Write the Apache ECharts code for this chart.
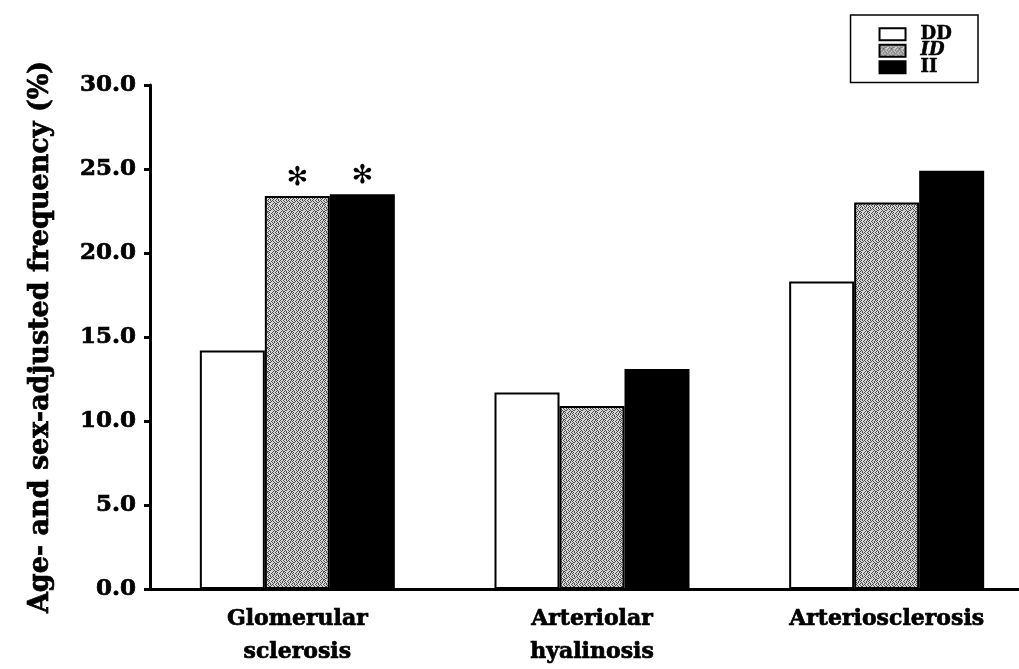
<!DOCTYPE html>
<html>
<head>
<meta charset="utf-8">
<script src="https://cdn.jsdelivr.net/npm/echarts@6/dist/echarts.min.js"></script>
<style>html,body{margin:0;padding:0;background:#fff;overflow:hidden}#c{width:1040px;height:669px}</style>
</head>
<body>
<div id="c"></div>
<script>
const categories = ['Glomerular\nsclerosis', 'Arteriolar\nhyalinosis', 'Arteriosclerosis'];
const seriesNames = ['DD', 'ID', 'II'];
const ddValues = [14.2, 11.7, 18.3];
const idValues = [23.4, 10.9, 23.0];
const iiValues = [23.5, 13.1, 24.9];
const idMarks = ['✻', '', ''];
const iiMarks = ['✻', '', ''];
const yTicks = [0, 5, 10, 15, 20, 25, 30];

// deterministic stipple texture for the ID bars
const tex = document.createElement('canvas');
tex.width = 8; tex.height = 8;
const tctx = tex.getContext('2d');
const pat = [
  '10010010','01001001','00100110','01011000',
  '10010100','00101001','10100100','01001010'
];
for (let y = 0; y < 8; y++) for (let x = 0; x < 8; x++) {
  tctx.fillStyle = pat[y][x] === '1' ? '#505050' : '#d4d4d4';
  tctx.fillRect(x, y, 1, 1);
}
const texture = {image: tex, repeat: 'repeat'};

const font = 'DejaVu Serif';
const heavy = {textBorderColor: '#000', textBorderWidth: 0.7};
function withMarks(values, marks) {
  return values.map((v, i) => marks[i] ? {
    value: v,
    label: {show: true, position: 'top', formatter: marks[i], distance: 5,
      fontSize: 26, color: '#000', fontFamily: 'DejaVu Sans', fontWeight: 'bold'}
  } : v);
}

const chart = echarts.init(document.getElementById('c'), null, {renderer: 'canvas'});
chart.setOption({
  animation: false,
  backgroundColor: '#fff',
  grid: {left: 150, top: 85, bottom: 77, width: 884},
  legend: {
    right: 62, top: 15,
    orient: 'vertical',
    icon: 'rect',
    itemWidth: 26, itemHeight: 12, itemGap: -2,
    padding: [10, 26, 6, 28],
    borderColor: '#000', borderWidth: 1.5,
    selectedMode: false,
    textStyle: Object.assign({fontFamily: font, fontWeight: 'bold', fontSize: 18, lineHeight: 14, color: '#000', padding: [0, 0, 0, 10]}, {textBorderColor: '#000', textBorderWidth: 0.5}),
    data: [
      {name: seriesNames[0]},
      {name: seriesNames[1], textStyle: {fontStyle: 'italic'}},
      {name: seriesNames[2]}
    ]
  },
  xAxis: {
    type: 'category',
    data: categories,
    axisLine: {lineStyle: {color: '#000', width: 3}},
    axisTick: {show: false},
    axisLabel: Object.assign({fontFamily: font, fontWeight: 'bold', fontSize: 22, color: '#000', lineHeight: 33, margin: 14}, heavy)
  },
  yAxis: {
    type: 'value',
    min: yTicks[0], max: yTicks[yTicks.length - 1], interval: 5,
    name: 'Age- and sex-adjusted frequency (%)',
    nameLocation: 'middle', nameRotate: 90, nameGap: 96,
    nameTextStyle: Object.assign({fontFamily: font, fontWeight: 'bold', fontSize: 27, color: '#000'}, heavy),
    splitLine: {show: false},
    axisLine: {show: true, lineStyle: {color: '#000', width: 3}},
    axisTick: {show: true, length: 6, lineStyle: {color: '#000', width: 3}},
    axisLabel: Object.assign({fontFamily: font, fontWeight: 'bold', fontSize: 23, color: '#000', margin: 14,
      formatter: v => v.toFixed(1)}, heavy)
  },
  series: [
    {name: seriesNames[0], type: 'bar', barWidth: 65, barGap: '0%', data: ddValues,
      itemStyle: {color: '#fff', borderColor: '#000', borderWidth: 2}},
    {name: seriesNames[1], type: 'bar', barWidth: 65, barGap: '0%', data: withMarks(idValues, idMarks),
      itemStyle: {color: texture, borderColor: '#000', borderWidth: 2}},
    {name: seriesNames[2], type: 'bar', barWidth: 65, barGap: '0%', data: withMarks(iiValues, iiMarks),
      itemStyle: {color: '#000', borderColor: '#000', borderWidth: 2}}
  ]
});
</script>
</body>
</html>
